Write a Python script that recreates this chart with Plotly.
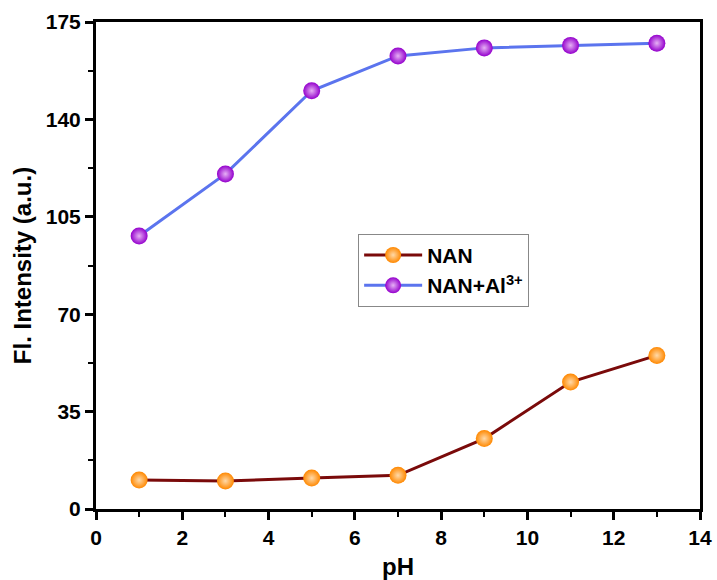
import plotly.graph_objects as go

ph = [1, 3, 5, 7, 9, 11, 13]
nan_vals = [10.4, 10.1, 11.1, 12.1, 25.3, 45.6, 55.2]
nan_al_vals = [98.1, 120.4, 150.3, 162.8, 165.7, 166.6, 167.4]
series_names = ["NAN", "NAN+Al<sup>3+</sup>"]

fig = go.Figure()
fig.add_trace(go.Scatter(
    x=ph, y=nan_vals, mode="lines+markers", name=series_names[0],
    line=dict(color="#7a0a0a", width=3),
    marker=dict(size=17, color="#ff8800",
                gradient=dict(type="radial", color="#ffd9a8"),
                line=dict(width=0)),
))
fig.add_trace(go.Scatter(
    x=ph, y=nan_al_vals, mode="lines+markers", name=series_names[1],
    line=dict(color="#5b74ee", width=3),
    marker=dict(size=17, color="#9400cc",
                gradient=dict(type="radial", color="#e6b0f5"),
                line=dict(width=0)),
))

tick_font = dict(family="Liberation Sans, Arial", size=21, color="black", weight="bold")
title_font = dict(family="Liberation Sans, Arial", size=24, color="black", weight="bold")

fig.update_layout(
    width=717, height=580,
    margin=dict(l=96, r=17, t=22, b=71),
    paper_bgcolor="white", plot_bgcolor="white",
    font=dict(family="Liberation Sans, Arial", color="black"),
    legend=dict(
        x=0.434, y=0.565, xanchor="left", yanchor="top",
        bordercolor="#888888", borderwidth=1, bgcolor="white",
        font=dict(family="Liberation Sans, Arial", size=21, color="black", weight="bold"),
        itemwidth=58, tracegroupgap=2,
    ),
    xaxis=dict(
        range=[0, 14], dtick=2, tick0=0, automargin=False,
        showline=True, linecolor="black", linewidth=3, mirror=True,
        ticks="outside", ticklen=8, tickwidth=3, tickcolor="black",
        minor=dict(dtick=1, ticks="outside", ticklen=5, tickwidth=2, tickcolor="black"),
        showgrid=False, zeroline=False,
        tickfont=tick_font,
        title=dict(text="pH", font=title_font, standoff=10),
    ),
    yaxis=dict(
        range=[0, 175], dtick=35, tick0=0, automargin=False,
        showline=True, linecolor="black", linewidth=3, mirror=True,
        ticks="outside", ticklen=8, tickwidth=3, tickcolor="black",
        minor=dict(dtick=17.5, ticks="outside", ticklen=5, tickwidth=2, tickcolor="black"),
        showgrid=False, zeroline=False,
        tickfont=tick_font,
        title=dict(text="Fl. Intensity (a.u.)", font=title_font, standoff=8),
    ),
)

fig.write_html("out.html",
               config={"displayModeBar": False},
               post_script="document.body.style.margin='0';document.body.style.overflow='hidden';")
